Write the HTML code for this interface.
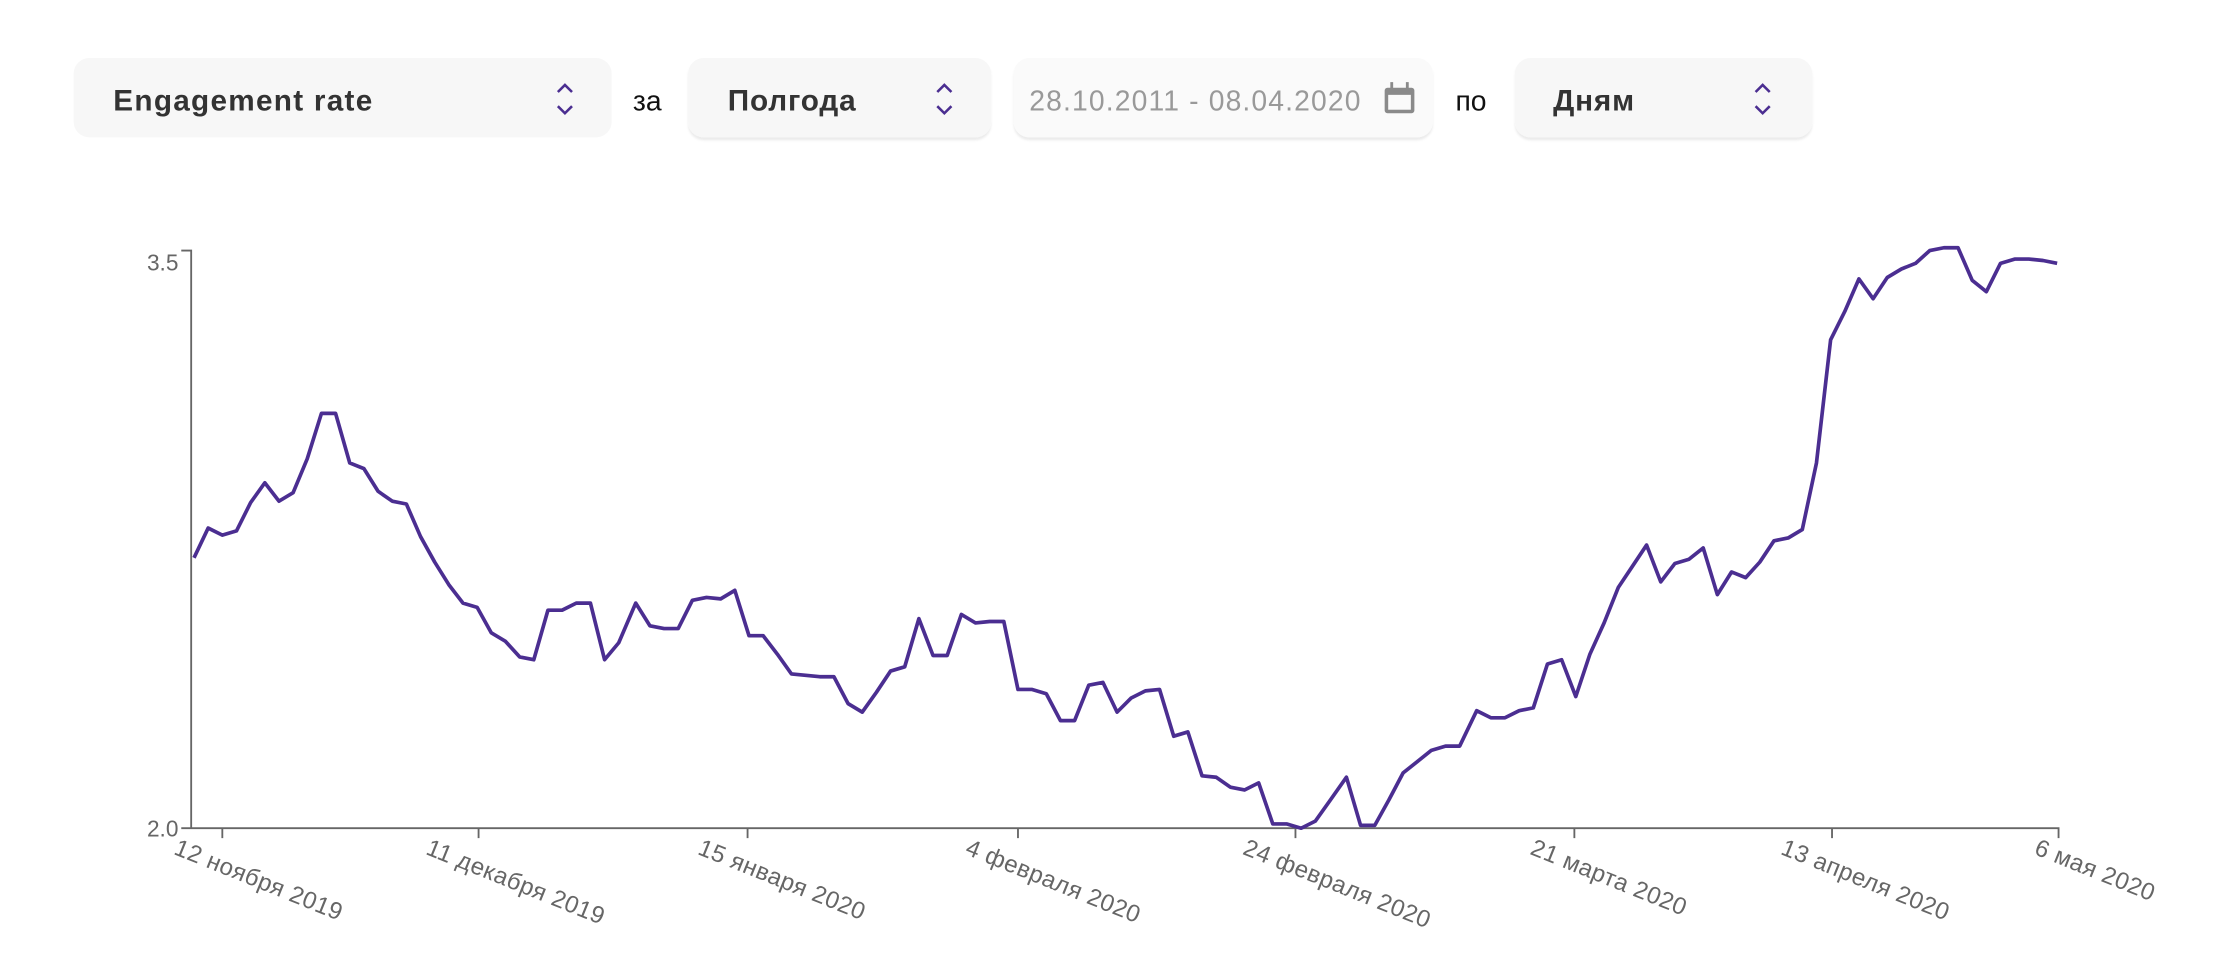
<!DOCTYPE html>
<html><head><meta charset="utf-8"><style>
html,body{margin:0;padding:0;background:#fff;width:2220px;height:978px;overflow:hidden}
svg{display:block}
text{font-family:"Liberation Sans","DejaVu Sans",sans-serif}
</style></head><body>
<svg width="2220" height="978" viewBox="0 0 1568 690.8" xmlns="http://www.w3.org/2000/svg">
<defs>
<filter id="sh" x="-5%" y="-10%" width="110%" height="130%"><feDropShadow dx="0" dy="2" stdDeviation="0.8" flood-color="#000" flood-opacity="0.08"/></filter>
</defs>
<!-- header -->
<rect x="52" y="41" width="380" height="56" rx="11" fill="#f7f7f7"/>
<text x="80" y="78" font-size="21" letter-spacing="0.9" font-weight="bold" fill="#333">Engagement rate</text>
<path d="M394 65 L399 60 L404 65 M394 75 L399 80 L404 75" stroke="#4b2e91" stroke-width="1.8" fill="none"/>
<text x="447" y="78" font-size="20" fill="#111">за</text>
<rect x="486" y="41" width="214" height="56" rx="11" fill="#f7f7f7" filter="url(#sh)"/>
<text x="514" y="78" font-size="21" letter-spacing="0.6" font-weight="bold" fill="#333">Полгода</text>
<path d="M662 65 L667 60 L672 65 M662 75 L667 80 L672 75" stroke="#4b2e91" stroke-width="1.8" fill="none"/>
<rect x="716" y="41" width="296" height="56" rx="11" fill="#fafafa" filter="url(#sh)"/>
<text x="727" y="78" font-size="20" letter-spacing="0.8" fill="#999">28.10.2011 - 08.04.2020</text>
<rect x="978" y="62" width="21" height="18" rx="2" fill="#8a8a8a"/>
<rect x="980.5" y="67" width="16" height="10.5" fill="#fafafa"/>
<rect x="982" y="58" width="2" height="6" fill="#8a8a8a"/><rect x="993" y="58" width="2" height="6" fill="#8a8a8a"/>
<text x="1028" y="78" font-size="20" fill="#111">по</text>
<rect x="1070" y="41" width="210" height="56" rx="11" fill="#f7f7f7" filter="url(#sh)"/>
<text x="1097" y="78" font-size="21" letter-spacing="0.6" font-weight="bold" fill="#333">Дням</text>
<path d="M1240 65 L1245 60 L1250 65 M1240 75 L1245 80 L1250 75" stroke="#4b2e91" stroke-width="1.8" fill="none"/>
<!-- axes -->
<g stroke="#666" stroke-width="1.3" fill="none">
<path d="M128 177 L135 177 L135 585"/>
<path d="M128 585 L1454 585 L1454 592"/>
<path d="M157 585v7M338 585v7M528 585v7M719 585v7M915 585v7M1112 585v7M1294 585v7"/>
</g>
<g font-size="16" fill="#666">
<text x="126" y="191" text-anchor="end">3.5</text>
<text x="126" y="591" text-anchor="end">2.0</text>
</g>
<g font-size="17" fill="#666" letter-spacing="0.3">
<text transform="translate(122,603) rotate(22)">12 ноября 2019</text>
<text transform="translate(300,603) rotate(22)">11 декабря 2019</text>
<text transform="translate(492,603) rotate(22)">15 января 2020</text>
<text transform="translate(681,603) rotate(22)">4 февраля 2020</text>
<text transform="translate(877,603) rotate(22)">24 февраля 2020</text>
<text transform="translate(1080,603) rotate(22)">21 марта 2020</text>
<text transform="translate(1257,603) rotate(22)">13 апреля 2020</text>
<text transform="translate(1436,603) rotate(22)">6 мая 2020</text>
</g>
<polyline fill="none" stroke="#4b2e91" stroke-width="2.6" stroke-linejoin="round" points="137,394 147,373 157,378 167,375 177,355 187,341 197,354 207,348 217,324 227,292 237,292 247,327 257,331 267,347 277,354 287,356 297,379 307,397 317,413 327,426 337,429 347,447 357,453 367,464 377,466 387,431 397,431 407,426 417,426 427,466 437,454 449,426 459,442 469,444 479,444 489,424 499,422 509,423 519,417 529,449 539,449 549,462 559,476 569,477 579,478 589,478 599,497 609,503 619,489 629,474 639,471 649,437 659,463 669,463 679,434 689,440 699,439 709,439 719,487 729,487 739,490 749,509 759,509 769,484 779,482 789,503 799,493 809,488 819,487 829,520 839,517 849,548 859,549 869,556 879,558 889,553 899,582 909,582 919,585 929,580 939,566 951,549 961,583 971,583 981,565 991,546 1001,538 1011,530 1021,527 1031,527 1043,502 1053,507 1063,507 1073,502 1083,500 1093,469 1103,466 1113,492 1123,462 1133,440 1143,415 1153,400 1163,385 1173,411 1183,398 1193,395 1203,387 1213,420 1223,404 1233,408 1243,397 1253,382 1263,380 1273,374 1283,327 1293,240 1303,220 1313,197 1323,211 1333,196 1343,190 1353,186 1363,177 1373,175 1383,175 1393,198 1403,206 1413,186 1423,183 1433,183 1443,184 1453,186"/>
</svg>
</body></html>
